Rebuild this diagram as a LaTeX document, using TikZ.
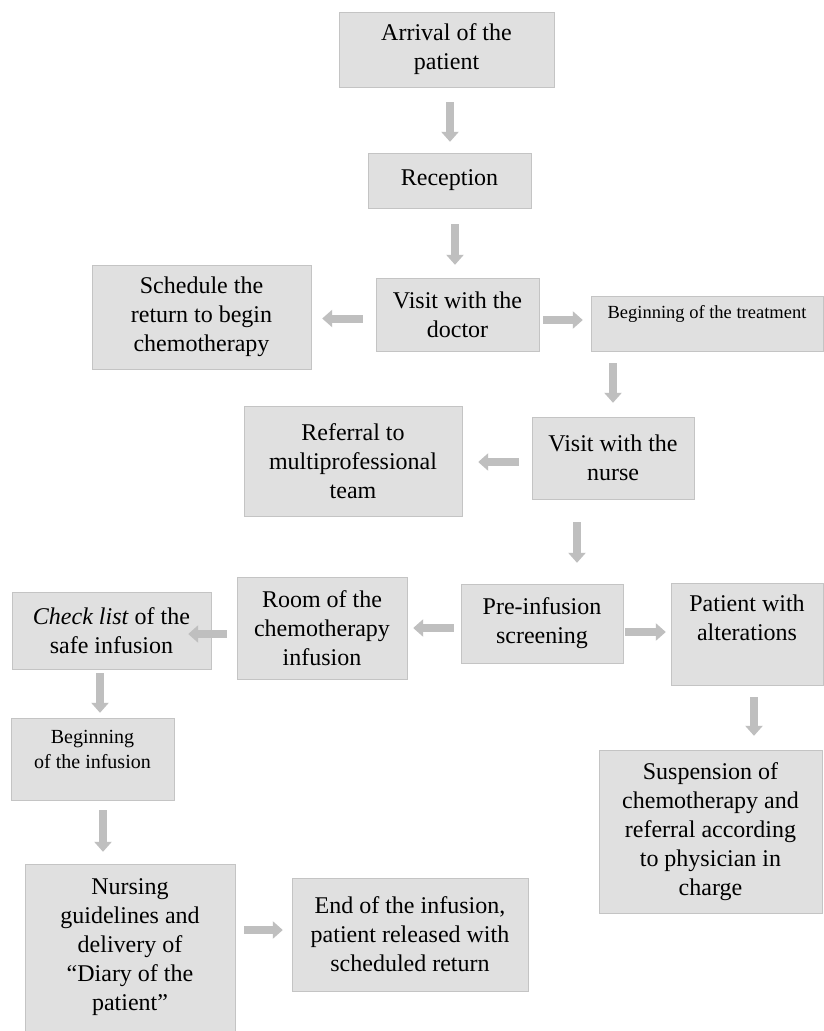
\documentclass[tikz,border=0pt]{standalone}
\usepackage{fontspec}
\setmainfont{Liberation Serif}
\usetikzlibrary{arrows.meta,calc}

\definecolor{boxfill}{HTML}{E0E0E0}
\definecolor{boxline}{HTML}{C4C4C4}
\definecolor{flowgray}{HTML}{BFBFBF}

\begin{document}
\begin{tikzpicture}
  [x=1pt,y=-1pt,
   box/.style={draw=boxline,fill=boxfill,inner sep=0pt,align=center,
     font=\fontsize{24}{29}\selectfont},
   flow/.style={draw=flowgray,line width=8pt,-{Triangle[width=17pt,length=10pt]}}]
  \path[use as bounding box,fill=white] (0,0) rectangle (823,1031);

  \node[box,minimum width=215,minimum height=75] (arr) at (446.5,49.5) {Arrival of the\\patient};
  \node[box,minimum width=163,minimum height=55] (rec) at (449.5,180.5) {Reception};
  \node[box,minimum width=163,minimum height=73] (doc) at (457.5,314.5) {Visit with the\\doctor};
  \node[box,minimum width=219,minimum height=104] (sched) at (201.5,317) {Schedule the\\return to begin\\chemotherapy};
  \node[box,minimum width=232,minimum height=55,font=\fontsize{18.5}{22}\selectfont,text depth=23pt] (treat) at (707,323.5) {Beginning of the treatment};
  \node[box,minimum width=162,minimum height=82] (nurse) at (613,458) {Visit with the\\nurse};
  \node[box,minimum width=218,minimum height=110] (ref) at (353,461) {Referral to\\multiprofessional\\team};
  \node[box,minimum width=162,minimum height=79] (pre) at (542,623.5) {Pre-infusion\\screening};
  \node[box,minimum width=152,minimum height=102,text depth=33pt] (alt) at (747,634) {Patient with\\alterations};
  \node[box,minimum width=170,minimum height=102] (room) at (322,628) {Room of the\\chemotherapy\\infusion};
  \node[box,minimum width=199,minimum height=77] (check) at (111.5,630.5) {\textit{Check list} of the\\safe infusion};
  \node[box,minimum width=163,minimum height=82,font=\fontsize{20}{25}\selectfont,text depth=20pt] (binf) at (92.5,759) {Beginning\\of the infusion};
  \node[box,minimum width=210,minimum height=167] (nurs) at (130,947.5) {Nursing\\guidelines and\\delivery of\\“Diary of the\\patient”};
  \node[box,minimum width=236,minimum height=113] (endb) at (410,934.5) {End of the infusion,\\patient released with\\scheduled return};
  \node[box,minimum width=223,minimum height=163] (susp) at (710.5,831.5) {Suspension of\\chemotherapy and\\referral according\\to physician in\\charge};

  \foreach \from/\to/\sx/\sy/\ex/\ey in {arr.south/rec.north/3.5/15/0.5/-11,
      rec.south/doc.north/5.5/16/-2.5/-13, doc.west/sched.east/-13/4/11/1.5,
      doc.east/treat.west/4/5.5/-8/-3.5, treat.south/nurse.north/-94/12/0/-14,
      nurse.west/ref.east/-13/4/16/1, nurse.south/pre.north/-36/23/35/-21,
      pre.west/room.east/-7/4.5/6/0, pre.east/alt.west/2/8.5/-5/-2,
      room.west/check.east/-10/6/-23/3.5, check.south/binf.north/-11.5/4/7.5/-5,
      binf.south/nurs.north/10.5/10/-27/-12, nurs.east/endb.west/9/-17.5/-9/-4.5,
      alt.south/susp.north/7/12/43.5/-14}
    \draw[flow] ($(\from)+(\sx,\sy)$) -- ($(\to)+(\ex,\ey)$);

\end{tikzpicture}
\end{document}
